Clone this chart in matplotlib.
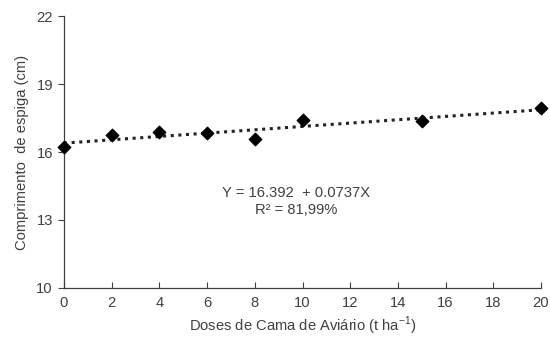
import matplotlib
matplotlib.use("Agg")
import matplotlib.pyplot as plt
import numpy as np

plt.rcParams['font.family'] = ['Liberation Sans', 'DejaVu Sans']
plt.rcParams['mathtext.fontset'] = 'custom'
plt.rcParams['mathtext.rm'] = 'Liberation Sans'

doses = [0, 2, 4, 6, 8, 10, 15, 20]
comprimento = [16.22, 16.75, 16.88, 16.84, 16.57, 17.41, 17.37, 17.94]
intercept = 16.392
slope = 0.0737
xticks = [0, 2, 4, 6, 8, 10, 12, 14, 16, 18, 20]
yticks = [10, 13, 16, 19, 22]

fs = 10.6
fig = plt.figure(figsize=(5.5, 3.42), dpi=100)
ax = fig.add_axes([0.1164, 0.158, 0.8672, 0.795])

xf = np.array([0, 20])
ax.plot(xf, intercept + slope * xf, color='#222222', linestyle=(0, (1, 1.5)), linewidth=2.2, zorder=2)
ax.scatter(doses, comprimento, marker='D', s=40, color='black', zorder=3, clip_on=False)

ax.set_xlim(0, 20)
ax.set_ylim(10, 22)
ax.set_xticks(xticks)
ax.set_yticks(yticks)
ax.spines['top'].set_visible(False)
ax.spines['right'].set_visible(False)
for s in ['left', 'bottom']:
    ax.spines[s].set_color('#404040')
    ax.spines[s].set_linewidth(0.9)
ax.tick_params(axis='x', direction='in', length=4, color='#404040', labelsize=fs, labelcolor='#404040', pad=6)
ax.tick_params(axis='y', direction='out', length=4, color='#404040', labelsize=fs, labelcolor='#404040', pad=4)

ax.set_xlabel('Doses de Cama de Aviário (t ha$^{\\mathrm{-1}}$)', fontsize=fs, color='#404040', labelpad=3)
ax.set_ylabel('Comprimento  de espiga (cm)', fontsize=fs, color='#404040', labelpad=5)

ax.text(9.73, 14.19, 'Y = 16.392  + 0.0737X', ha='center', va='center', fontsize=fs, color='#404040')
ax.text(9.73, 13.44, 'R² = 81,99%', ha='center', va='center', fontsize=fs, color='#404040')

fig.savefig('out.png', dpi=100)
